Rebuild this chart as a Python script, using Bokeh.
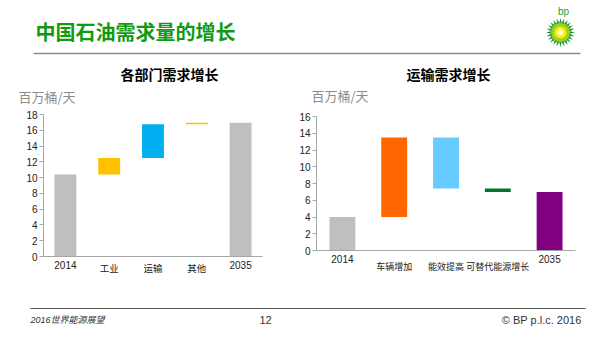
import numpy as np
from bokeh.plotting import figure
from bokeh.layouts import column, row
from bokeh.models import (Range1d, FactorRange, SingleIntervalTicker, ColumnDataSource,
                          CategoricalAxis, Spacer, CustomJSTickFormatter)
from bokeh.embed import file_html
from bokeh.resources import INLINE
from bokeh.core.properties import value

# ---------------- data ----------------
main_title = "中国石油需求量的增长"
left_title = "各部门需求增长"
right_title = "运输需求增长"
unit_label = "百万桶/天"
footer_left = "2016世界能源展望"
footer_mid = "12"
footer_right = "© BP p.l.c. 2016"

sector_cats = ["2014", "工业", "运输", "其他", "2035"]
sector_bottom = [0, 10.4, 12.5, 16.75, 0]
sector_top = [10.4, 12.5, 16.75, 16.95, 16.95]
sector_colors = ["#bfbfbf", "#ffc000", "#00b0f0", "#ffc000", "#bfbfbf"]

transport_cats = ["2014", "车辆增加", "能效提高", "可替代能源增长", "2035"]
transport_bottom = [0, 4.0, 7.4, 7.0, 0]
transport_top = [4.0, 13.5, 13.5, 7.4, 7.0]
transport_colors = ["#bfbfbf", "#ff6600", "#66ccff", "#00772a", "#800080"]

year_cats = ["2014", "2035"]

CJK = "Noto Sans CJK SC"
LAT = "Liberation Sans"


def make_chart(cats, bottom, top, colors, ymax, width, height, bl, br,
               cjk_standoff, cjk_size):
    p = figure(width=width, height=height, x_range=FactorRange(*cats),
               y_range=Range1d(0, ymax), output_backend="svg",
               toolbar_location=None, min_border_left=bl, min_border_right=br,
               min_border_top=7, min_border_bottom=34)
    src = ColumnDataSource(dict(x=cats, b=bottom, t=top, c=colors))
    p.vbar(x="x", bottom="b", top="t", width=0.5, fill_color="c",
           line_color=None, source=src)
    p.grid.visible = False
    p.outline_line_color = None
    ya = p.yaxis[0]
    ya.ticker = SingleIntervalTicker(interval=2)
    ya.minor_tick_line_color = None
    ya.major_tick_in = 0
    ya.major_tick_out = 4
    ya.major_tick_line_color = "#a6a6a6"
    ya.axis_line_color = "#a6a6a6"
    ya.major_label_standoff = 2
    ya.major_label_text_font = LAT
    ya.major_label_text_font_size = "10px"
    ya.major_label_text_color = "#222222"
    # first row of category labels: the years
    xa = p.xaxis[0]
    xa.major_tick_line_color = None
    xa.major_tick_in = 0
    xa.major_tick_out = 0
    xa.axis_line_color = "#a6a6a6"
    xa.major_label_standoff = 3
    xa.major_label_text_font = LAT
    xa.major_label_text_font_size = "10px"
    xa.major_label_text_color = "#222222"
    xa.formatter = CustomJSTickFormatter(args=dict(keep=year_cats),
                                         code="return keep.includes(tick) ? tick : ' ';")
    # second row: the Chinese category labels
    xa2 = CategoricalAxis(axis_line_color=None, major_tick_line_color=None,
                          major_tick_in=0, major_tick_out=0,
                          major_label_standoff=cjk_standoff,
                          major_label_text_font=CJK,
                          major_label_text_font_size=cjk_size,
                          major_label_text_color="#222222")
    xa2.formatter = CustomJSTickFormatter(args=dict(skip=year_cats),
                                          code="return skip.includes(tick) ? ' ' : tick;")
    p.add_layout(xa2, "below")
    return p


left = make_chart(sector_cats, sector_bottom, sector_top, sector_colors,
                  18, 290, 183, 43, 28, -13, "9.5px")
right = make_chart(transport_cats, transport_bottom, transport_top, transport_colors,
                   16, 310, 175, 26, 25, -8, "9px")

# ---------------- header (page title, logo, chart titles, units) ----------------
hdr = figure(width=600, height=107, x_range=Range1d(0, 600), y_range=Range1d(107, 0),
             x_axis_type=None, y_axis_type=None, output_backend="svg",
             toolbar_location=None, min_border=0)
hdr.outline_line_color = None
hdr.text(x=[35], y=[31], text=[main_title], text_font=value(CJK),
         text_font_size="20px", text_font_style="bold", text_color="#109a10",
         text_baseline="middle", text_align="left")
hdr.segment(x0=[33], y0=[53], x1=[580], y1=[53], line_color="#8c8c8c", line_width=1.5)
hdr.text(x=[169, 448], y=[73, 73], text=[left_title, right_title], text_font=value(CJK),
         text_font_size="14px", text_font_style="bold", text_color="#000000",
         text_baseline="middle", text_align="center")
hdr.text(x=[18, 311], y=[96, 95], text=[unit_label, unit_label], text_font=value(CJK),
         text_font_size="13px", text_color="#8c8c8c",
         text_baseline="middle", text_align="left")
# BP logo
cx, cy = 560, 32
ang = np.linspace(0, 2 * np.pi, 48, endpoint=False)
rad = np.where(np.arange(48) % 2 == 0, 14.5, 9.5)
hdr.patch(x=cx + rad * np.cos(ang), y=cy + rad * np.sin(ang),
          fill_color="#1e9b2e", line_color=None)
hdr.circle(x=[cx], y=[cy], radius=9.5, fill_color="#9fd21e", line_color=None)
hdr.circle(x=[cx], y=[cy], radius=6, fill_color="#ffee00", line_color=None)
hdr.circle(x=[cx], y=[cy], radius=3, fill_color="#ffffd0", line_color=None)
hdr.text(x=[563], y=[11], text=["bp"], text_font=value(LAT), text_font_size="10px",
         text_color="#1e9b2e", text_baseline="middle", text_align="center")

# ---------------- footer ----------------
ftr = figure(width=600, height=47, x_range=Range1d(0, 600), y_range=Range1d(47, 0),
             x_axis_type=None, y_axis_type=None, output_backend="svg",
             toolbar_location=None, min_border=0)
ftr.outline_line_color = None
ftr.segment(x0=[30], y0=[18], x1=[585], y1=[18], line_color="#555555", line_width=1.2)
ftr.text(x=[30], y=[29], text=[footer_left], text_font=value(LAT + ", " + CJK),
         text_font_size="9px", text_font_style="italic", text_color="#333333",
         text_baseline="middle", text_align="left")
ftr.text(x=[265], y=[29], text=[footer_mid], text_font=value(LAT),
         text_font_size="11px", text_color="#333333",
         text_baseline="middle", text_align="center")
ftr.text(x=[581], y=[29], text=[footer_right], text_font=value(LAT),
         text_font_size="11px", text_color="#333333",
         text_baseline="middle", text_align="right")

right_col = column(Spacer(width=310, height=2), right, Spacer(width=310, height=6), spacing=0)
layout = column(hdr, row(left, right_col, spacing=0), ftr, spacing=0)

with open("out.html", "w") as f:
    f.write(file_html(layout, INLINE))
